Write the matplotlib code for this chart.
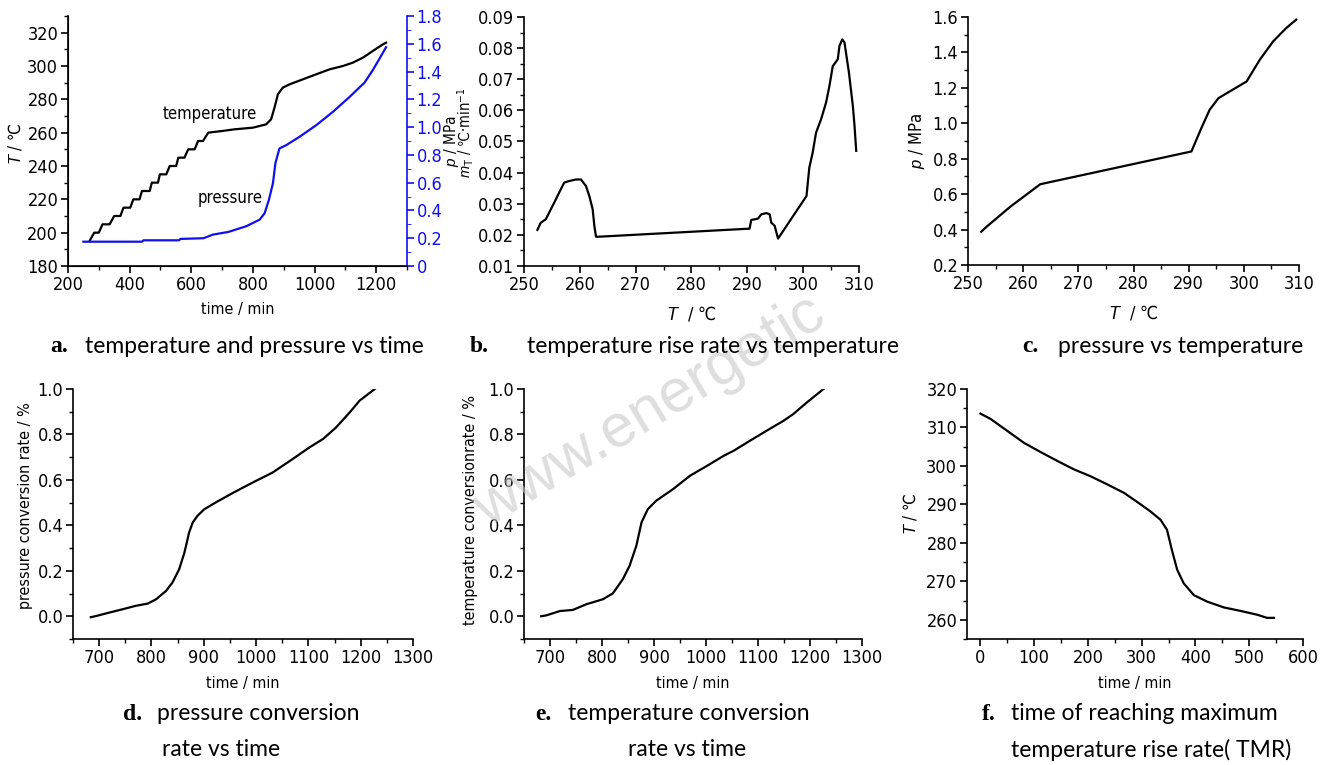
import matplotlib
matplotlib.use("Agg")
import matplotlib.pyplot as plt
from matplotlib import font_manager as fm
from matplotlib.ticker import MultipleLocator, FuncFormatter

# narrow sans for the axes if one is there, otherwise plain Liberation Sans
fonts = fm.fontManager.ttflist
names = {f.name for f in fonts}
if 'Liberation Sans Narrow' in names:
    plt.rcParams['font.family'] = ['Liberation Sans Narrow', 'DejaVu Sans']
elif any(f.name == 'DejaVu Sans' and 'condensed' in str(f.stretch) for f in fonts):
    plt.rcParams['font.family'] = ['DejaVu Sans']
    plt.rcParams['font.stretch'] = 'condensed'
else:
    plt.rcParams['font.family'] = ['Liberation Sans', 'DejaVu Sans']
plt.rcParams['mathtext.fontset'] = 'custom'
plt.rcParams['mathtext.it'] = 'Liberation Sans:italic'
plt.rcParams['mathtext.rm'] = 'DejaVu Sans'
plt.rcParams['mathtext.bf'] = 'Liberation Sans'

# a: temperature and pressure vs time
temp_time = [270, 285, 300, 312, 335, 350, 370, 380, 402, 412, 432, 440, 465, 472, 492, 498, 519,
             530, 551, 558, 578, 590, 611, 622, 638, 655, 700, 740, 800, 843, 859, 870, 881, 897,
             919, 962, 1005, 1049, 1092, 1124, 1157, 1189, 1222, 1232]
temp_T = [195, 200, 200, 205, 205, 210, 210, 215, 215, 220, 220, 225, 225, 230, 230, 235, 235,
          240, 240, 245, 245, 250, 250, 255, 255, 260, 261, 262, 263, 265, 268, 275, 283, 287,
          289, 292, 295, 298, 300, 302, 305, 309, 313, 314]
pres_time = [250, 440, 445, 560, 565, 640, 670, 720, 778, 822, 838, 852, 865, 873, 886, 908,
             951, 1005, 1059, 1113, 1162, 1189, 1210, 1232]
pres_p = [0.175, 0.175, 0.185, 0.185, 0.195, 0.20, 0.226, 0.245, 0.286, 0.334, 0.38, 0.477,
          0.596, 0.74, 0.846, 0.87, 0.93, 1.013, 1.109, 1.216, 1.32, 1.41, 1.49, 1.575]

# b: temperature rise rate vs temperature
b_T = [252.4, 253.0, 253.9, 254.8, 255.4, 256.3, 257.2, 258.1, 259.3, 260.2, 261.1, 261.7,
       262.3, 262.6, 262.9, 263.3, 290.4, 290.7, 291.9, 292.5, 293.4, 294.0, 294.3, 294.9,
       295.5, 300.6, 301.1, 301.7, 302.3, 303.2, 304.1, 304.7, 305.3, 306.2, 306.5, 307.0,
       307.4, 308.2, 308.9, 309.2, 309.5]
b_rate = [0.0216, 0.0239, 0.025, 0.0282, 0.0303, 0.0336, 0.0368, 0.0373, 0.0378, 0.0378,
          0.0357, 0.0325, 0.0282, 0.0229, 0.0194, 0.0194, 0.022, 0.0248, 0.0252, 0.0266,
          0.027, 0.0266, 0.0239, 0.0229, 0.0188, 0.0325, 0.0416, 0.0464, 0.0528, 0.0571,
          0.0625, 0.0678, 0.0742, 0.0764, 0.0807, 0.0828, 0.0818, 0.0721, 0.0614, 0.055, 0.047]

# c: pressure vs temperature
c_T = [252.4, 253.4, 255.2, 257.7, 260.1, 263.1, 290.5, 292.3, 293.8, 295.4, 300.5, 302.9,
       305.3, 307.7, 309.5]
c_p = [0.388, 0.417, 0.464, 0.53, 0.586, 0.656, 0.841, 0.973, 1.076, 1.142, 1.236, 1.359,
       1.462, 1.538, 1.585]

# d: pressure conversion rate vs time
d_time = [684, 694, 719, 745, 770, 793, 809, 828, 840, 853, 863, 872, 879, 888, 901, 923, 955,
          994, 1032, 1070, 1102, 1128, 1153, 1179, 1198, 1227]
d_conv = [-0.004, 0.001, 0.016, 0.031, 0.046, 0.056, 0.075, 0.112, 0.148, 0.207, 0.28, 0.369,
          0.413, 0.442, 0.471, 0.501, 0.542, 0.589, 0.633, 0.692, 0.743, 0.78, 0.831, 0.897,
          0.949, 1.0]

# e: temperature conversion rate vs time
e_time = [683, 693, 719, 744, 770, 802, 821, 840, 853, 866, 876, 888, 904, 937, 969, 1002,
          1034, 1053, 1085, 1117, 1149, 1168, 1194, 1226]
e_conv = [0.0, 0.004, 0.023, 0.028, 0.053, 0.075, 0.101, 0.163, 0.222, 0.31, 0.413, 0.471,
          0.508, 0.56, 0.618, 0.662, 0.706, 0.728, 0.773, 0.817, 0.86, 0.89, 0.941, 1.0]

# f: TMR
f_time = [0, 19, 50, 81, 112, 143, 174, 205, 236, 267, 298, 316, 335, 347, 356, 366, 378, 397,
          422, 453, 484, 515, 533, 546]
f_T = [313.6, 312.2, 309.1, 306.0, 303.6, 301.3, 299.1, 297.3, 295.2, 293.0, 290.0, 288.2,
       286.0, 283.4, 278.2, 273.0, 269.5, 266.4, 264.7, 263.2, 262.3, 261.3, 260.5, 260.5]

W, H = 1327, 765
fig = plt.figure(figsize=(W / 100, H / 100), dpi=100)


def box(l, t, r, b):
    return [l / W, 1 - b / H, (r - l) / W, (b - t) / H]


def style(ax, xmaj, xmin, ymaj, ymin, right=False):
    ax.spines['top'].set_visible(False)
    ax.spines['right'].set_visible(right)
    for s in ax.spines.values():
        s.set_linewidth(1.2)
    ax.xaxis.set_major_locator(MultipleLocator(xmaj))
    ax.xaxis.set_minor_locator(MultipleLocator(xmin))
    ax.yaxis.set_major_locator(MultipleLocator(ymaj))
    ax.yaxis.set_minor_locator(MultipleLocator(ymin))
    ax.tick_params(which='major', length=5, width=1.2, labelsize=13, pad=2)
    ax.tick_params(which='minor', length=3, width=1.0)
    ax.tick_params(axis='y', which='both', right=False)
    ax.tick_params(axis='x', which='both', top=False)


lw = 1.6
lab = 11.5
blue = '#1010ee'
deg = r'$\mathrm{℃}$'

# a
ax = fig.add_axes(box(68, 16, 407, 266))
ax.plot(temp_time, temp_T, color='black', lw=lw)
ax.set_xlim(200, 1300)
ax.set_ylim(180, 330)
style(ax, 200, 100, 20, 10)
ax.set_yticks(range(180, 321, 20))
ax.set_xlabel('time / min', fontsize=lab, labelpad=6)
ax.set_ylabel('$T$ / ' + deg, fontsize=12)
ax.yaxis.set_label_coords(-0.127, 0.488)
ax.text(661, 271, 'temperature', fontsize=12, ha='center', va='center')
ax2 = ax.twinx()
ax2.plot(pres_time, pres_p, color=blue, lw=lw)
ax2.set_ylim(0, 1.8)
ax2.spines['top'].set_visible(False)
ax2.spines['right'].set_color(blue)
ax2.spines['right'].set_linewidth(1.2)
ax2.yaxis.set_major_locator(MultipleLocator(0.2))
ax2.yaxis.set_minor_locator(MultipleLocator(0.1))
ax2.yaxis.set_major_formatter(FuncFormatter(lambda v, p: '0' if abs(v) < 1e-9 else f'{v:.1f}'))
ax2.tick_params(axis='y', which='major', colors=blue, length=5, width=1.2, labelsize=13, pad=2)
ax2.tick_params(axis='y', which='minor', colors=blue, length=3)
ax2.set_ylabel('$p$ / MPa', fontsize=11)
ax2.yaxis.set_label_coords(1.103, 0.5)
ax2.text(726, 0.49, 'pressure', fontsize=12, ha='center', va='center')

# b
ax = fig.add_axes(box(524, 17, 859, 266))
ax.plot(b_T, b_rate, color='black', lw=lw)
ax.set_xlim(250, 310)
ax.set_ylim(0.01, 0.09)
style(ax, 10, 5, 0.01, 0.005)
ax.set_xlabel('$T$  / ' + deg, fontsize=13, labelpad=8)
ax.set_ylabel(r'$m_{\mathbf{T}}$ / $\mathrm{℃·min}^{-1}$', fontsize=10.5)
ax.yaxis.set_label_coords(-0.143, 0.534)

# c
ax = fig.add_axes(box(968, 17, 1299, 265))
ax.plot(c_T, c_p, color='black', lw=lw)
ax.set_xlim(250, 310)
ax.set_ylim(0.2, 1.6)
style(ax, 10, 5, 0.2, 0.1)
ax.set_xlabel('$T$  / ' + deg, fontsize=13, labelpad=8)
ax.set_ylabel('$p$ / MPa', fontsize=12)
ax.yaxis.set_label_coords(-0.124, 0.5)

# d
ax = fig.add_axes(box(73, 389, 413, 639))
ax.plot(d_time, d_conv, color='black', lw=lw)
ax.set_xlim(650, 1300)
ax.set_ylim(-0.1, 1.0)
style(ax, 100, 50, 0.2, 0.1)
ax.set_xticks(range(700, 1301, 100))
ax.set_yticks([0, 0.2, 0.4, 0.6, 0.8, 1.0])
ax.set_xlabel('time / min', fontsize=lab, labelpad=7)
ax.set_ylabel('pressure conversion rate / %', fontsize=lab)
ax.yaxis.set_label_coords(-0.118, 0.532)

# e
ax = fig.add_axes(box(524, 389, 862, 639))
ax.plot(e_time, e_conv, color='black', lw=lw)
ax.set_xlim(650, 1300)
ax.set_ylim(-0.1, 1.0)
style(ax, 100, 50, 0.2, 0.1)
ax.set_xticks(range(700, 1301, 100))
ax.set_yticks([0, 0.2, 0.4, 0.6, 0.8, 1.0])
ax.set_xlabel('time / min', fontsize=lab, labelpad=7)
ax.set_ylabel('temperature conversionrate / %', fontsize=lab)
ax.yaxis.set_label_coords(-0.136, 0.516)

# f
ax = fig.add_axes(box(967, 389, 1303, 639))
ax.plot(f_time, f_T, color='black', lw=lw)
ax.set_xlim(-25, 600)
ax.set_ylim(255, 320)
style(ax, 100, 50, 10, 5)
ax.set_xticks(range(0, 601, 100))
ax.set_yticks(range(260, 321, 10))
ax.set_xlabel('time / min', fontsize=lab, labelpad=7)
ax.set_ylabel('$T$ / ' + deg, fontsize=12)
ax.yaxis.set_label_coords(-0.140, 0.5)

# captions
cap_font = dict(family=['Lato', 'DejaVu Sans'], fontsize=16.5, va='center', stretch='normal')
bold_font = dict(family=['Liberation Serif'], fontweight='bold', fontsize=17, va='center',
                 stretch='normal')
captions = [
    (50, 85, 347, 'a.', 'temperature and pressure vs time'),
    (470, 527, 347, 'b.', 'temperature rise rate vs temperature'),
    (1022, 1058, 347, 'c.', 'pressure vs temperature'),
    (123, 157, 714, 'd.', 'pressure conversion'),
    (535, 568, 714, 'e.', 'temperature conversion'),
    (982, 1011, 714, 'f.', 'time of reaching maximum'),
]
for bx, tx, y, b, t in captions:
    fig.text(bx / W, 1 - y / H, b, **bold_font)
    fig.text(tx / W, 1 - y / H, t, **cap_font)
for x, y, t in [(162, 750, 'rate vs time'), (628, 750, 'rate vs time'),
                (1011, 750, 'temperature rise rate( TMR)')]:
    fig.text(x / W, 1 - y / H, t, **cap_font)

# watermark
fig.text(650 / W, 1 - 412 / H, 'www.energetic', fontsize=44, color='#c8c8c8', alpha=0.6,
         rotation=31, ha='center', va='center', family=['Liberation Sans', 'DejaVu Sans'],
         stretch='normal', zorder=0)

fig.savefig('out.png', dpi=100)
